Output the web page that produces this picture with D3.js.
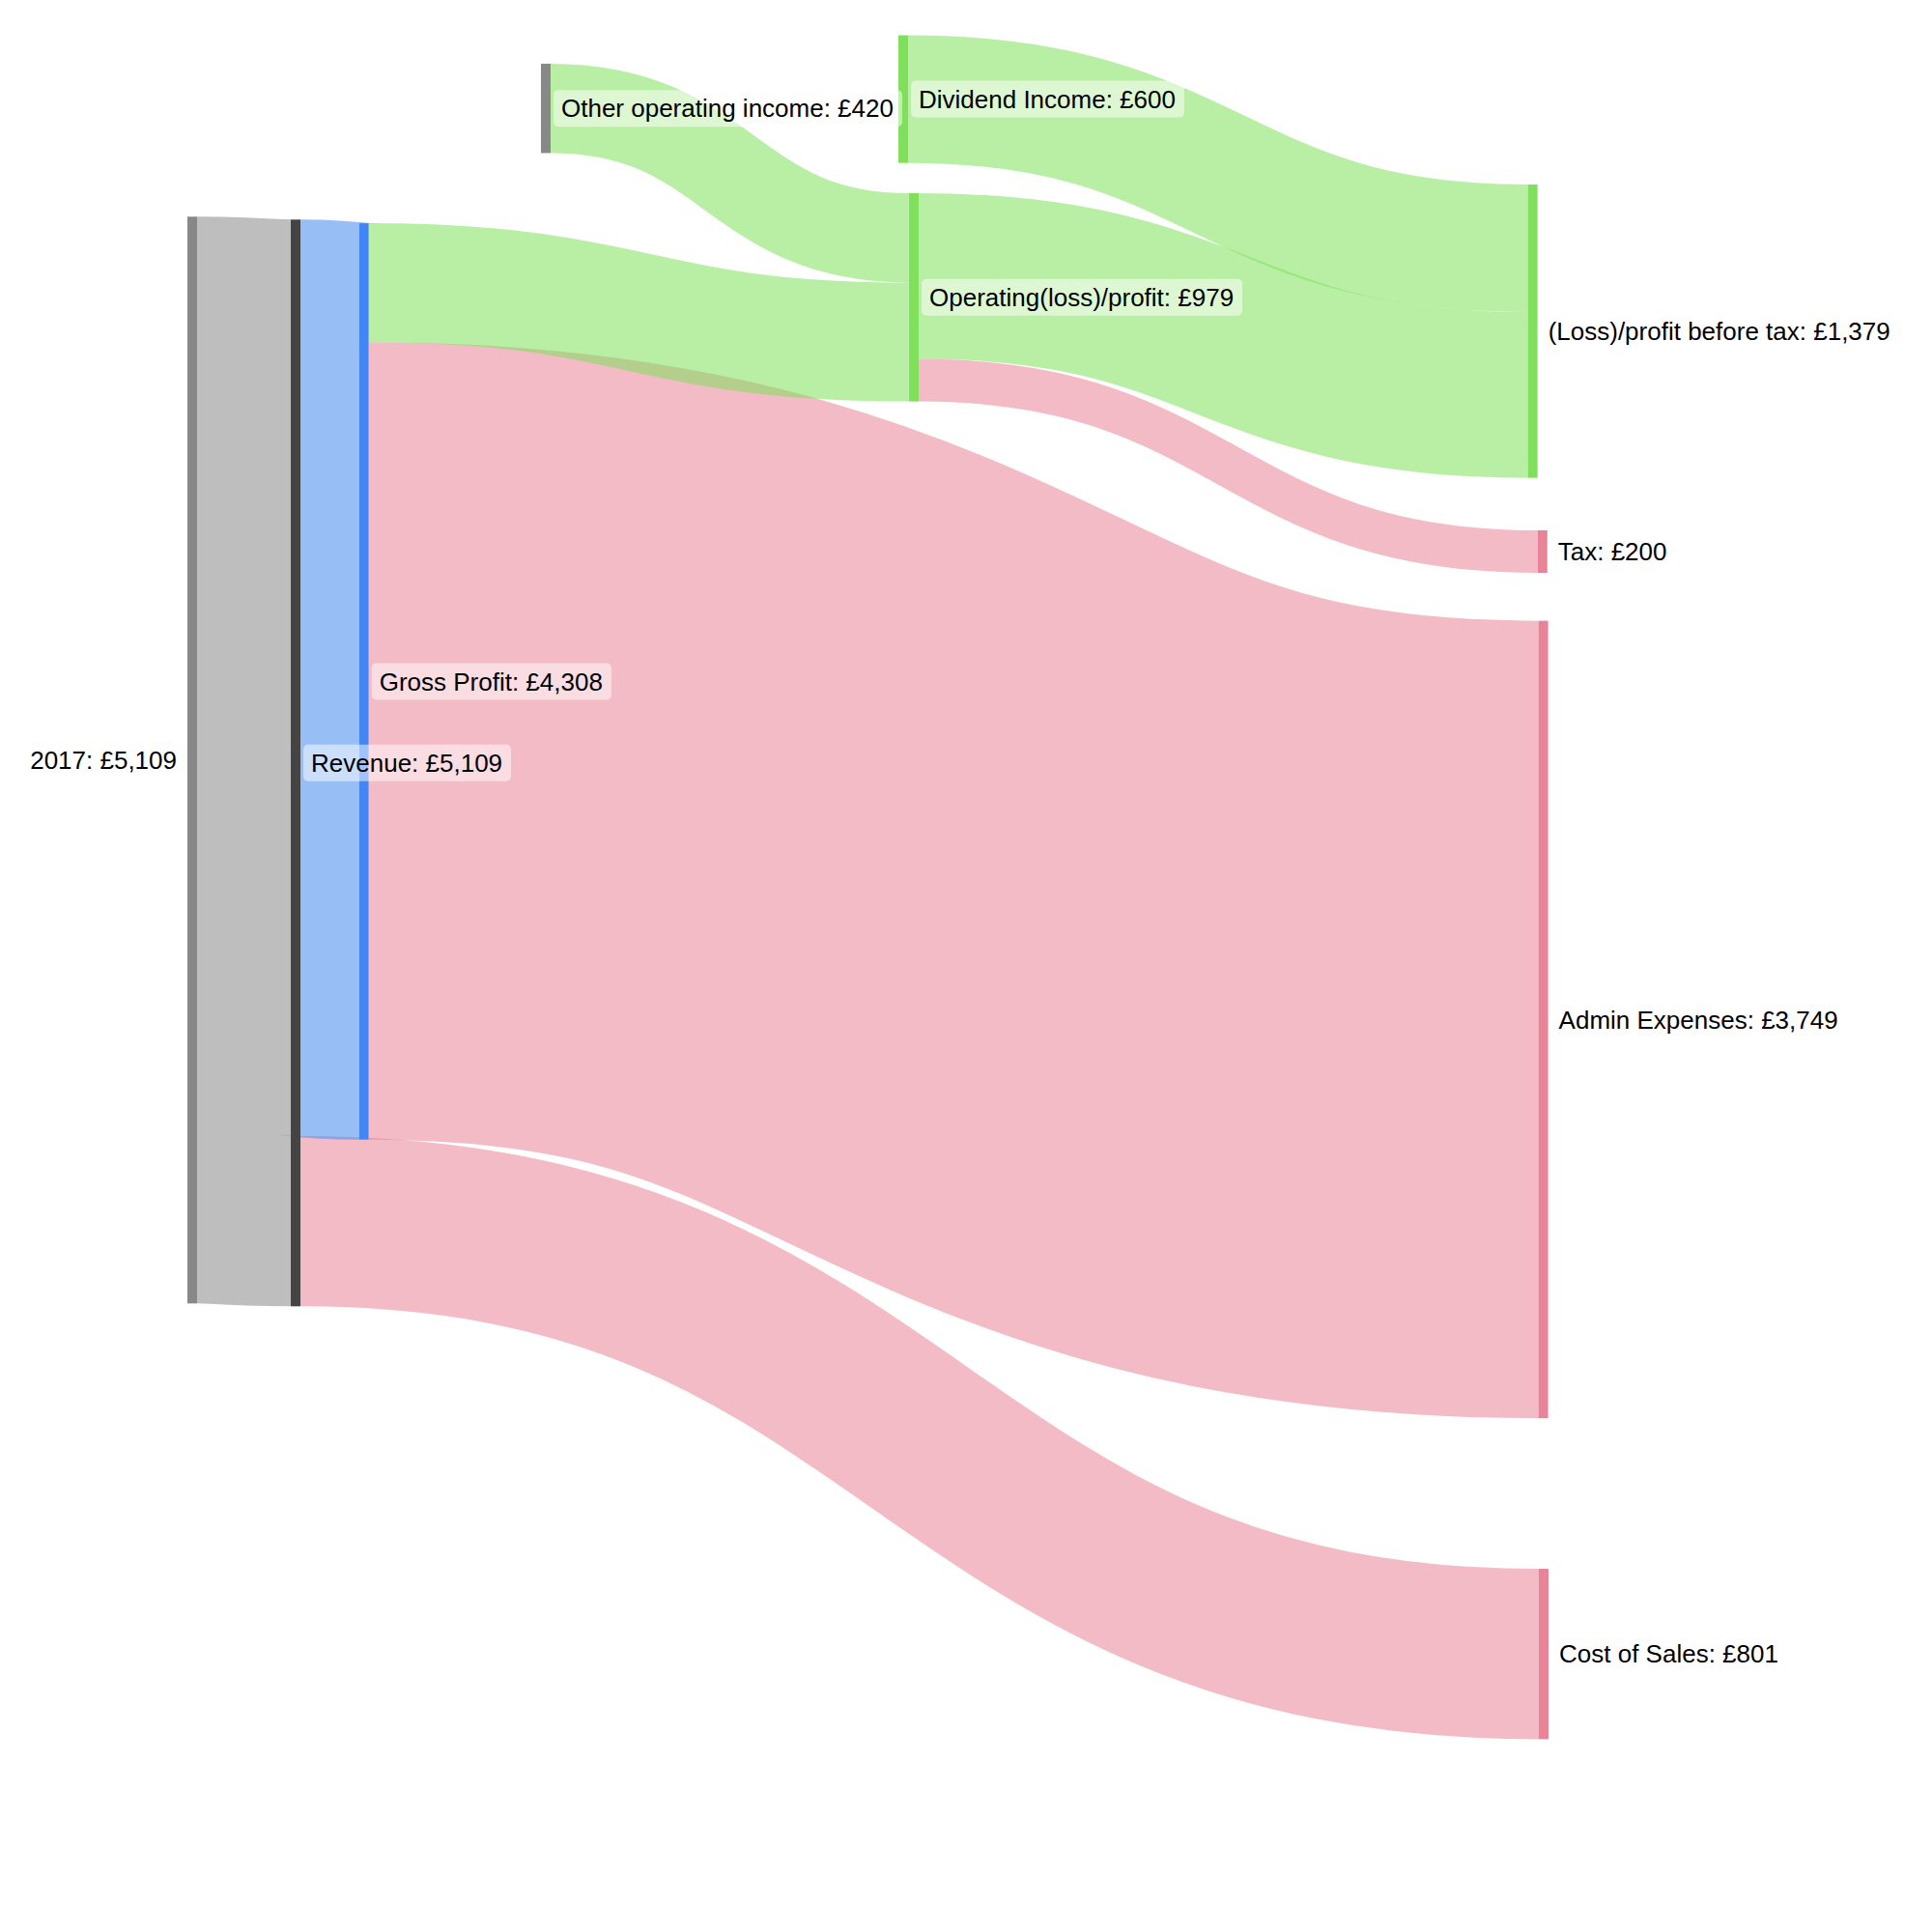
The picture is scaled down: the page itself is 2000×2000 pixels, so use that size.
<!DOCTYPE html>
<html>
<head>
<meta charset="utf-8">
<script src="https://cdn.jsdelivr.net/npm/d3@7"></script>
<style>
  body { margin: 0; background: #fff; }
  svg { display: block; }
</style>
</head>
<body>
<svg id="chart" width="2000" height="2000"></svg>
<script>
// ---- data ----
const nodeLabels = [
  "2017", "Revenue", "Gross Profit", "Other operating income", "Dividend Income",
  "Operating(loss)/profit", "(Loss)/profit before tax", "Tax", "Admin Expenses", "Cost of Sales"
];
const linkSources = [0, 1, 1, 2, 2, 3, 5, 5, 4];
const linkTargets = [1, 9, 2, 8, 5, 5, 7, 6, 6];
const linkValues  = [5109, 801, 4308, 3749, 559, 420, 200, 779, 600];

// ---- arrangement (like Plotly node.x / node.y fractions) ----
const nodeXFrac = [0, 0.0765, 0.1270, 0.2616, 0.5261, 0.5340, 0.9919, 0.9991, 0.9997, 1];
const nodeYFrac = [0.3934, 0.3949, 0.3527, 0.0561, 0.0513, 0.1539, 0.1714, 0.2855, 0.5277, 0.8561];

// ---- styles ----
const nodeColors = ["#888888", "#444444", "#4285f4", "#888888", "#80e05b",
                    "#80e05b", "#80e05b", "#e98397", "#e98397", "#e98397"];
const linkColors = ["#888888", "#e98397", "#448bed", "#e98397", "#80e05b",
                    "#80e05b", "#e98397", "#80e05b", "#80e05b"];
const linkOpacity = 0.55;
const nodeWidth = 10;

const svg = d3.select("#chart");
const k  = d3.scaleLinear().domain([0, 5109]).range([0, 1125]);
const xS = d3.scaleLinear().domain([0, 1]).range([194, 1593]);
const yS = d3.scaleLinear().domain([0, 1]).range([0, 2000]);

const nodes = nodeLabels.map((name, i) => ({ name, i, ins: [], outs: [] }));
const links = linkValues.map((v, j) => ({
  source: nodes[linkSources[j]], target: nodes[linkTargets[j]], value: v, j
}));
links.forEach(l => { l.w = k(l.value); l.source.outs.push(l); l.target.ins.push(l); });

nodes.forEach(n => {
  n.value = Math.max(d3.sum(n.ins, d => d.value), d3.sum(n.outs, d => d.value));
  n.h = k(n.value);
  n.x0 = xS(nodeXFrac[n.i]);
  n.x1 = n.x0 + nodeWidth;
  n.cy = yS(nodeYFrac[n.i]);
  n.y0 = n.cy - n.h / 2;
  n.y1 = n.cy + n.h / 2;
});
nodes.forEach(n => {
  let y = n.y0;
  n.outs.slice().sort((a, b) => a.target.cy - b.target.cy).forEach(l => { l.sy = y + l.w / 2; y += l.w; });
  y = n.y0;
  n.ins.slice().sort((a, b) => a.source.cy - b.source.cy).forEach(l => { l.ty = y + l.w / 2; y += l.w; });
});

function linkPath(l) {
  const x0 = l.source.x1, x1 = l.target.x0;
  const xi = d3.interpolateNumber(x0, x1);
  const x2 = xi(0.5), x3 = xi(0.5);
  const p = d3.path();
  p.moveTo(x0, l.sy);
  p.bezierCurveTo(x2, l.sy, x3, l.ty, x1, l.ty);
  return p.toString();
}

// links
svg.append("g").selectAll("path")
  .data(links)
  .join("path")
  .attr("d", linkPath)
  .attr("fill", "none")
  .attr("stroke", l => linkColors[l.j])
  .attr("stroke-opacity", linkOpacity)
  .attr("stroke-width", l => l.w);

// nodes
svg.append("g").selectAll("rect")
  .data(nodes)
  .join("rect")
  .attr("x", n => n.x0)
  .attr("y", n => n.y0)
  .attr("width", nodeWidth)
  .attr("height", n => n.h)
  .attr("fill", n => nodeColors[n.i]);

// labels
const fmt = d3.format(",");
const lg = svg.append("g")
  .attr("font-family", "Arial, 'Liberation Sans', sans-serif")
  .attr("font-size", 26);

nodes.forEach(n => {
  const left = nodeXFrac[n.i] === 0;
  const g = lg.append("g");
  const rect = g.append("rect");
  const tx = left ? n.x0 - 11 : n.x1 + 11;
  const t = g.append("text")
    .attr("x", tx)
    .attr("y", n.cy)
    .attr("dy", "0.35em")
    .attr("text-anchor", left ? "end" : "start")
    .attr("fill", "#000")
    .text(`${n.name}: £${fmt(n.value)}`);
  const w = t.node().getComputedTextLength();
  const bx = left ? tx - w - 8 : tx - 8;
  rect.attr("x", bx)
    .attr("y", n.cy - 19)
    .attr("width", w + 17)
    .attr("height", 38)
    .attr("rx", 5)
    .attr("fill", "#fff")
    .attr("fill-opacity", 0.5);
});
</script>
</body>
</html>
